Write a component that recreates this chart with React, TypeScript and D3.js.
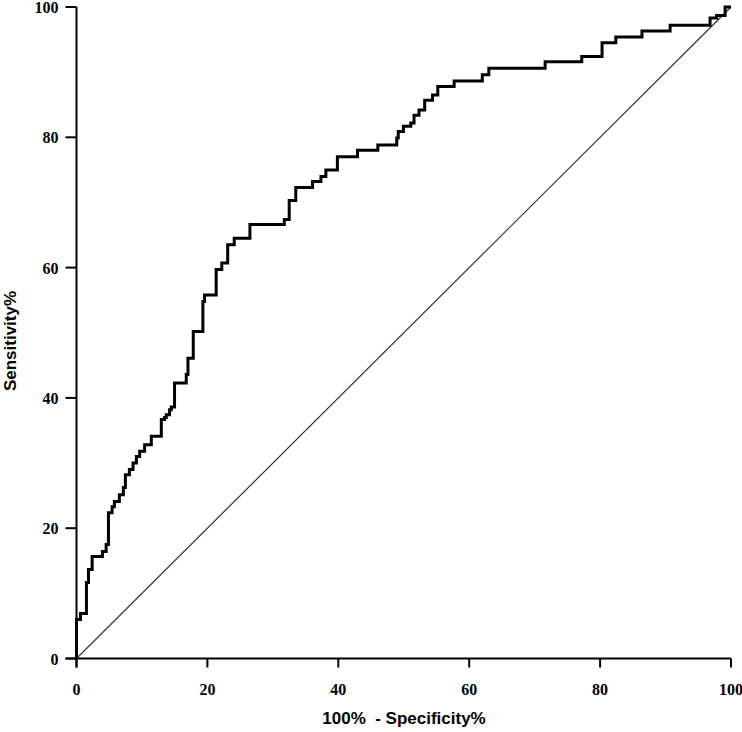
import React from "react";
import * as d3 from "d3";

// ROC curve vertices: [100% - Specificity%, Sensitivity%] (step after)
const fpr = [0, 0, 0.61, 1.52, 1.83, 2.39, 3.96, 4.53, 4.88, 5.44, 5.79, 6.55, 7.16, 7.47, 8.08, 8.64, 9.15, 9.65, 10.41, 11.43, 12.96, 13.46, 13.72, 14.22, 14.48, 14.98, 16.77, 17.03, 17.84, 19.31, 19.56, 21.34, 22.2, 23.1, 24.1, 26.5, 31.75, 32.5, 33.5, 36.07, 37.35, 38.1, 39.86, 42.94, 46.04, 48.93, 49.16, 49.95, 51.07, 51.57, 52.33, 53.2, 54.4, 55.2, 57.7, 62.0, 63.0, 71.6, 77.2, 80.3, 82.4, 86.4, 90.7, 96.8, 97.8, 99.1, 100];
const tpr = [0, 5.98, 6.9, 11.66, 13.65, 15.64, 16.41, 17.48, 22.39, 23.31, 24.08, 25.15, 26.23, 28.22, 29.0, 30.0, 31.0, 31.8, 32.8, 34.1, 36.7, 37.0, 37.4, 38.2, 38.6, 42.3, 43.6, 46.1, 50.2, 54.8, 55.8, 59.7, 60.7, 63.5, 64.5, 66.6, 67.4, 70.3, 72.3, 73.2, 74.0, 75.0, 77.0, 78.0, 78.8, 79.9, 80.9, 81.7, 82.2, 83.4, 84.2, 85.7, 86.5, 87.8, 88.65, 89.6, 90.6, 91.6, 92.4, 94.5, 95.4, 96.3, 97.2, 98.3, 98.7, 100, 100];
const refLine = [0, 100];
const xTicks = [0, 20, 40, 60, 80, 100];
const yTicks = [0, 20, 40, 60, 80, 100];
const xTitle = "100%  - Specificity%";
const yTitle = "Sensitivity%";

export default function App() {
  const W = 742, H = 732;
  const x = d3.scaleLinear().domain([0, 100]).range([76.5, 731]);
  const y = d3.scaleLinear().domain([0, 100]).range([658.5, 7]);
  const pts: [number, number][] = fpr.map((v, i) => [v, tpr[i]]);
  const line = d3.line<[number, number]>().x(d => x(d[0])).y(d => y(d[1])).curve(d3.curveStepAfter);
  const diag = d3.line<number>().x(d => x(d)).y(d => y(d));
  const tickFont = { fontFamily: "'Liberation Serif', 'Times New Roman', serif", fontWeight: 700, fontSize: 16 } as const;
  const titleFont = { fontFamily: "'Liberation Sans', Arial, sans-serif", fontWeight: 700, fontSize: 17 } as const;
  return (
    <svg width={W} height={H} style={{ position: "absolute", left: 0, top: 0, background: "#fff" }}>
      <rect width={W} height={H} fill="#fff" />
      {/* diagonal reference */}
      <path d={diag(refLine) || ""} fill="none" stroke="#333" strokeWidth={1.2} />
      {/* ROC curve */}
      <path d={line(pts) || ""} fill="none" stroke="#000" strokeWidth={3} strokeLinejoin="miter" />
      {/* axes */}
      <line x1={x(0)} x2={x(0)} y1={y(100)} y2={y(0) + 9} stroke="#000" strokeWidth={2} />
      <line x1={x(0) - 11} x2={x(100)} y1={y(0)} y2={y(0)} stroke="#000" strokeWidth={2} />
      {xTicks.map(t => (
        <g key={"x" + t}>
          <line x1={x(t)} x2={x(t)} y1={y(0)} y2={y(0) + 9} stroke="#000" strokeWidth={2} />
          <text x={x(t)} y={y(0) + 36} textAnchor="middle" style={tickFont}>{t}</text>
        </g>
      ))}
      {yTicks.map(t => (
        <g key={"y" + t}>
          <line x1={x(0) - 11} x2={x(0)} y1={y(t)} y2={y(t)} stroke="#000" strokeWidth={2} />
          <text x={x(0) - 18} y={y(t) + 6} textAnchor="end" style={tickFont}>{t}</text>
        </g>
      ))}
      <text x={404} y={724} textAnchor="middle" style={titleFont} xmlSpace="preserve">{xTitle}</text>
      <text transform={`translate(16,341) rotate(-90)`} textAnchor="middle" style={titleFont}>{yTitle}</text>
    </svg>
  );
}
